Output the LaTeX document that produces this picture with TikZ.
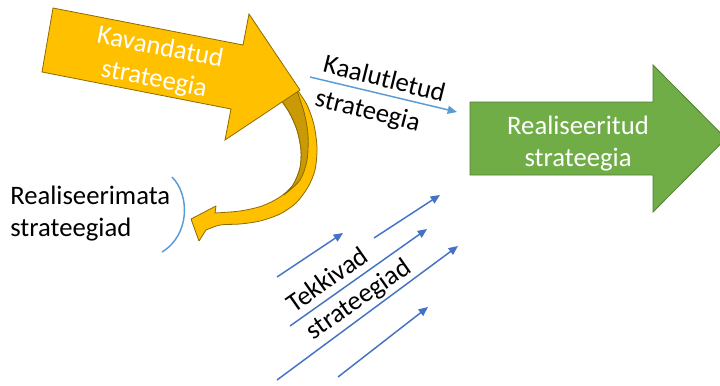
\documentclass[tikz,border=0pt]{standalone}
\usepackage{fontspec}
\setmainfont{Carlito}
\usetikzlibrary{arrows.meta}
\definecolor{plannedfill}{HTML}{FFC000}
\definecolor{plannededge}{HTML}{8C6A00}
\definecolor{shadefill}{HTML}{C99A06}
\definecolor{realfill}{HTML}{70AD47}
\definecolor{realedge}{HTML}{507E32}
\definecolor{flowblue}{HTML}{4472C4}
\definecolor{lightblue}{HTML}{5B9BD5}
\begin{document}
\begin{tikzpicture}[x=0.75pt,y=-0.75pt,
  lbl/.style={font=\fontsize{20}{24}\selectfont, inner sep=0pt},
  whitelbl/.style={lbl, text=white},
  bigarrow/.style={line width=0.6pt, line join=miter},
  flow/.style={draw=flowblue, line width=1.1pt, -{Triangle[length=7pt,width=6pt]}},
  deliberate/.style={draw=lightblue, line width=1.1pt, -{Triangle[length=7pt,width=6pt]}}
]
\useasboundingbox (0,0) rectangle (720,385);

% curved arrow from the planned strategy back to the unrealized ones
\fill[plannedfill, draw=plannededge, line width=0.6pt, line join=round]
  (191,219) -- (216,206) -- (215,213)
  -- plot[smooth] coordinates {(215,213) (240,211) (262,206) (280,197) (293,185) (300,168) (301,150) (297,130) (289,112) (278,96)}
  -- (296,88)
  -- plot[smooth] coordinates {(296,88) (307,105) (314,125) (317,148) (315,170) (308,187) (296,203) (280,214) (260,221) (240,224) (220,225) (206,230)}
  -- (199,241) -- cycle;
\fill[shadefill, draw=plannededge, line width=0.6pt, line join=round]
  plot[smooth] coordinates {(278,96) (289,112) (297,130) (301,150) (300,168) (293,185) (284,195)}
  -- plot[smooth] coordinates {(284,195) (300,180) (307,160) (308,135) (304,112) (296,88)}
  -- cycle;

% planned strategy arrow
\filldraw[bigarrow, fill=plannedfill, draw=plannededge]
  (53,8) -- (243,45) -- (249,14) -- (300,90) -- (225,140) -- (231,109) -- (42,72) -- cycle;
\node[whitelbl, align=center, rotate=-11] (planned) at (157,64) {Kavandatud\\strateegia};

% realized strategy arrow
\filldraw[bigarrow, fill=realfill, draw=realedge]
  (470,102) -- (653,102) -- (653,65) -- (726,138.5) -- (653,212) -- (653,175) -- (470,175) -- cycle;
\node[whitelbl, align=center] (realized) at (578,144) {Realiseeritud\\strateegia};

% deliberate strategy
\coordinate (delA) at (310,77);
\coordinate (delB) at (457,112);
\draw[deliberate] (delA) -- (delB);
\node[lbl, align=left, rotate=-14, font=\fontsize{20}{26}\selectfont] (deliberatelbl) at (380,97) {Kaalutletud\\strateegia};

% unrealized strategies
\node[lbl, align=left, anchor=west] (unrealized) at (10,214) {Realiseerimata\\strateegiad};
\coordinate (arcA) at (172,177);
\coordinate (arcB) at (162,252);
\draw[lightblue, line width=1.1pt] (arcA) .. controls (190,195) and (190,235) .. (arcB);

% emergent strategies
\coordinate (e1a) at (277,277); \coordinate (e1b) at (343,233);
\coordinate (e2a) at (374,238); \coordinate (e2b) at (440,195);
\coordinate (e3a) at (290,326); \coordinate (e3b) at (427,229);
\coordinate (e4a) at (277,380); \coordinate (e4b) at (458,246);
\coordinate (e5a) at (338,377); \coordinate (e5b) at (428,307);
\draw[flow] (e1a) -- (e1b);
\draw[flow] (e2a) -- (e2b);
\draw[flow] (e3a) -- (e3b);
\draw[flow] (e4a) -- (e4b);
\draw[flow] (e5a) -- (e5b);
\node[lbl, align=left, rotate=35, font=\fontsize{20}{25}\selectfont] (emergent) at (349.5,286.5) {Tekkivad\\strateegiad};
\end{tikzpicture}
\end{document}
